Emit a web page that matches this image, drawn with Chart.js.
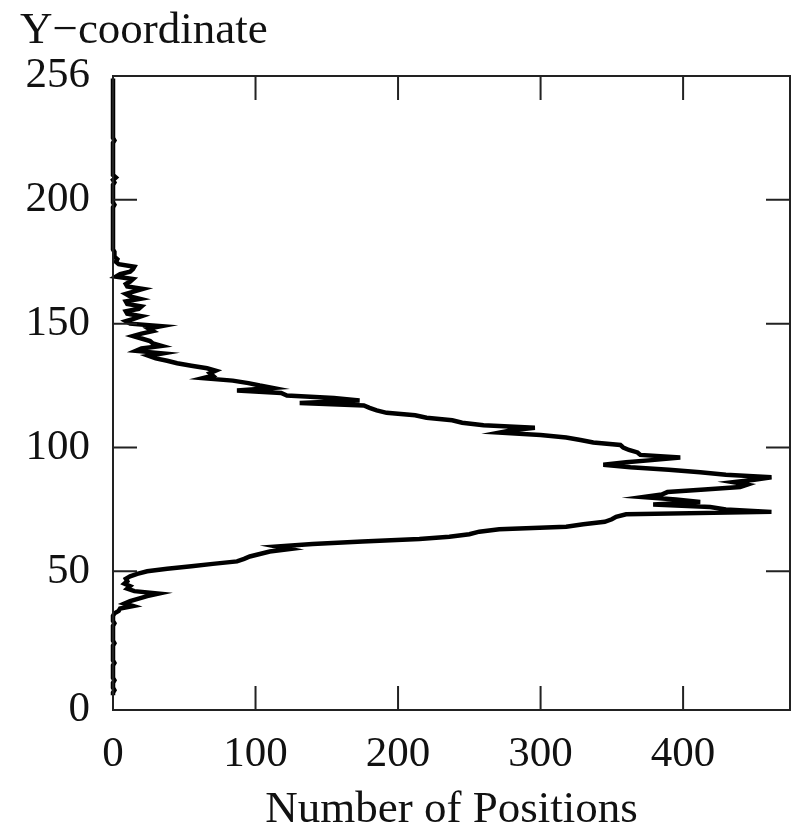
<!DOCTYPE html>
<html>
<head>
<meta charset="utf-8">
<script src="https://cdn.jsdelivr.net/npm/chart.js@4.4.1/dist/chart.umd.min.js"></script>
<style>
  html, body { margin: 0; padding: 0; background: #ffffff; }
  #wrap { width: 796px; height: 829px; }
</style>
</head>
<body>
<div id="wrap"><canvas id="c" width="796" height="829"></canvas></div>
<script>
// ---- Data (count of positions per Y-coordinate) ----
const yStart = 0;   // first Y-coordinate in the counts array
const counts = [
  // y 0-32
  0,0,1,0,0,0,1,0,0,0, 0,0,0,1,0,0,0,0,0,0, 0,1,0,0,0,0,0,0,0,1, 0,0,0,
  // y 33-49
  1,4,5,14,8,12,18,24,32,15, 10,12,8,10,9,12,17,
  // y 50-69
  24,38,55,70,87,92,96,103,110,124, 115,140,175,215,236,250,257,271,318,330,
  // y 70-89
  345,350,353,360,462,430,419,379,412,395, 372,385,389,415,440,445,435,450,462,430,
  // y 90-109
  412,390,363,344,360,380,398,370,368,362, 358,356,337,328,318,300,271,280,296,260,
  // y 110-129
  245,238,220,212,192,185,180,176,131,173, 155,122,118,87,112,103,95,84,63,70,
  // y 130-149
  68,72,66,55,45,38,30,25,35,16, 20,34,28,26,20,14,20,28,25,34,
  // y 150-169
  12,9,15,20,10,9,18,20,10,9, 19,12,9,15,21,10,9,12,14,2,
  // y 170-179
  5,12,14,15,4,2,3,1,1,1,
  // y 180-249
  0,0,0,0,0,0,0,0,0,0, 0,0,0,0,0,0,0,0,1,0, 0,0,0,0,0,0,0,1,0,2,
  0,0,0,0,0,0,0,0,0,0, 0,0,0,0,1,0,0,0,0,0, 0,0,0,0,0,0,0,0,0,0,
  0,0,0,0,0,0,0,0,0,0
];
const xTickValues = [0, 100, 200, 300, 400];
const xMin = 0, xMax = 475;
const yTickValues = [-6, 50, 100, 150, 200, 250];
const yTickLabels = ["0", "50", "100", "150", "200", "256"];
const yMin = -6, yMax = 250;
const xTitle = "Number of Positions";
const yTitle = "Y\u2212coordinate";

const points = counts.map((c, i) => ({ x: c, y: yStart + i }));

const FONT = "'Liberation Serif', 'Times New Roman', serif";
const INK = '#111111';
const TICK_LEN = 24;

const boxTicks = {
  id: 'boxTicks',
  afterDatasetsDraw(chart) {
    const { ctx, chartArea: a, scales } = chart;
    ctx.save();
    ctx.strokeStyle = '#222222';
    ctx.lineWidth = 2;
    ctx.strokeRect(a.left, a.top, a.right - a.left, a.bottom - a.top);
    ctx.beginPath();
    xTickValues.forEach(v => {
      const px = scales.x.getPixelForValue(v);
      ctx.moveTo(px, a.bottom); ctx.lineTo(px, a.bottom - TICK_LEN);
      ctx.moveTo(px, a.top); ctx.lineTo(px, a.top + TICK_LEN);
    });
    yTickValues.forEach(v => {
      const py = scales.y.getPixelForValue(v);
      ctx.moveTo(a.left, py); ctx.lineTo(a.left + TICK_LEN, py);
      ctx.moveTo(a.right, py); ctx.lineTo(a.right - TICK_LEN, py);
    });
    ctx.stroke();
    ctx.restore();
  }
};

new Chart(document.getElementById('c'), {
  type: 'scatter',
  data: {
    datasets: [{
      data: points,
      showLine: true,
      borderColor: '#000000',
      borderWidth: 4.5,
      pointRadius: 0,
      tension: 0,
      clip: 4
    }]
  },
  options: {
    responsive: false,
    animation: false,
    layout: { padding: { left: 20, right: 6, top: 0, bottom: 0 } },
    plugins: {
      legend: { display: false },
      tooltip: { enabled: false },
      title: {
        display: true,
        text: yTitle,
        align: 'start',
        color: INK,
        font: { family: FONT, size: 45, weight: 'normal', lineHeight: 1.2 },
        padding: { top: 4, bottom: 18 }
      }
    },
    scales: {
      x: {
        type: 'linear',
        min: xMin, max: xMax,
        afterBuildTicks: s => { s.ticks = xTickValues.map(v => ({ value: v })); },
        afterFit: s => { s.height = 119; },
        grid: { display: false, drawTicks: false },
        border: { display: false },
        ticks: {
          color: INK, padding: 19, maxRotation: 0,
          font: { family: FONT, size: 43 },
          callback: v => String(v)
        },
        title: {
          display: true, text: xTitle, color: INK,
          font: { family: FONT, size: 45, lineHeight: 0.85 },
          padding: { top: 0, bottom: 0 }
        }
      },
      y: {
        type: 'linear',
        min: yMin, max: yMax,
        afterBuildTicks: s => { s.ticks = yTickValues.map(v => ({ value: v })); },
        afterFit: s => { s.width = 93; },
        grid: { display: false, drawTicks: false },
        border: { display: false },
        ticks: {
          color: INK, padding: 23,
          font: { family: FONT, size: 43 },
          callback: (v, i) => yTickLabels[i]
        }
      }
    }
  },
  plugins: [boxTicks]
});
</script>
</body>
</html>
